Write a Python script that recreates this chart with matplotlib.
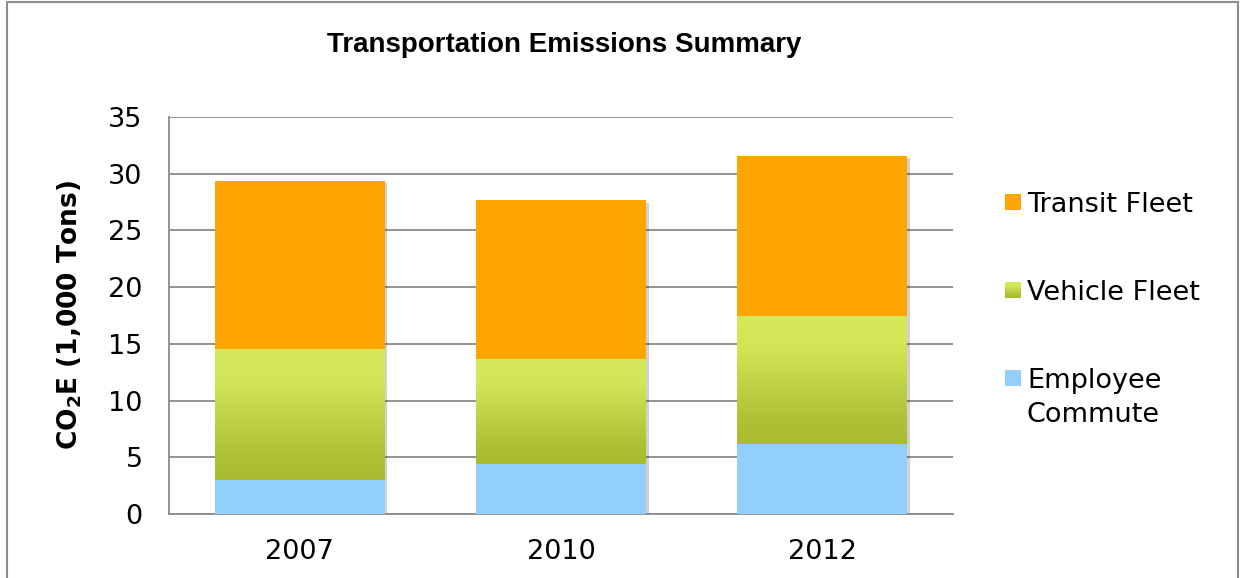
import matplotlib.pyplot as plt
import numpy as np
import matplotlib.patheffects as pe
from matplotlib.colors import LinearSegmentedColormap
from matplotlib.patches import Rectangle

# Datos del grafico (miles de toneladas de CO2E)
years = ['2007', '2010', '2012']
employee = [3.0, 4.4, 6.2]
vehicle = [11.5, 9.2, 11.2]
transit = [14.9, 14.1, 14.2]
series = ['Transit Fleet', 'Vehicle Fleet', 'Employee\nCommute']

orange = '#ffa500'
blue = '#93cffd'
# degradado verde de la flota de vehiculos (abajo oscuro -> arriba claro)
green = LinearSegmentedColormap.from_list(
    'green', [(0.0, '#a9bb30'), (0.2, '#afc236'), (0.75, '#d1e556'), (1.0, '#d5e95a')])

W, H = 1241, 578
fig = plt.figure(figsize=(W / 100, H / 100), dpi=100)
ax = fig.add_axes([169 / W, 64 / H, 784 / W, 397 / H])

x = np.arange(len(years))
w = 0.65
bottom2 = np.array(employee)
bottom3 = bottom2 + np.array(vehicle)
totals = bottom3 + np.array(transit)

# sombra de cada columna
ax.bar(x, totals, w, color='white', zorder=2.5,
       path_effects=[pe.SimplePatchShadow(offset=(2, -2), shadow_rgbFace='k', alpha=0.18)])

ax.bar(x, employee, w, color=blue, zorder=3)
b2 = ax.bar(x, vehicle, w, bottom=bottom2, color=green(0.5), zorder=3)
ax.bar(x, transit, w, bottom=bottom3, color=orange, zorder=3)

grad = np.linspace(0, 1, 256).reshape(-1, 1)
for rect in b2:
    x0, y0 = rect.get_x(), rect.get_y()
    ax.imshow(grad, extent=(x0, x0 + rect.get_width(), y0, y0 + rect.get_height()),
              aspect='auto', cmap=green, origin='lower', zorder=3.5, interpolation='bilinear')

ax.set_xlim(-0.5, len(years) - 0.5)
ax.set_ylim(0, 35)
ax.set_yticks(range(0, 36, 5))
ax.set_xticks(x)
ax.set_xticklabels(years)
ax.set_aspect('auto')

ax.grid(axis='y', color='#8a8a8a', lw=1.3, zorder=0)
ax.set_axisbelow(True)
for s in ['top', 'right']:
    ax.spines[s].set_visible(False)
for s in ['left', 'bottom']:
    ax.spines[s].set_color('#8a8a8a')
    ax.spines[s].set_linewidth(1.3)
ax.tick_params(axis='both', length=0, labelsize=19.5)
ax.tick_params(axis='x', pad=18)
ax.tick_params(axis='y', pad=19)

ax.set_ylabel(r'CO$_\mathbf{2}$E (1,000 Tons)', fontsize=19, fontweight='bold')
ax.yaxis.set_label_coords(-0.108, 0.5)

fig.text(564 / W, 1 - 45 / H, 'Transportation Emissions Summary',
         ha='center', va='center', fontsize=20, fontweight='bold',
         family=['Liberation Sans', 'DejaVu Sans'])

# Leyenda hecha a mano: cuadro de color + texto (una linea cada 34 px)
leg_y = [202, 290, 378]
sq = 16
for name, yc, kind in zip(series, leg_y, ['orange', 'green', 'blue']):
    fy = 1 - yc / H
    if kind == 'green':
        n = 16
        for i in range(n):
            fig.patches.append(Rectangle((1005 / W, fy - sq / 2 / H + sq / H * i / n), sq / W,
                                         sq / H / n * 1.05, facecolor=green(i / (n - 1)),
                                         edgecolor='none', transform=fig.transFigure))
    else:
        c = orange if kind == 'orange' else blue
        fig.patches.append(Rectangle((1005 / W, fy - sq / 2 / H), sq / W, sq / H,
                                     facecolor=c, edgecolor='none', transform=fig.transFigure))
    for j, line in enumerate(name.split('\n')):
        fig.text(1027 / W, 1 - (yc + 34 * j) / H, line, ha='left', va='center_baseline',
                 fontsize=19.5)

# marco exterior del grafico
fig.patches.append(Rectangle((7 / W, -0.1), 1231 / W, 1.1 - 2 / H, fill=False,
                             edgecolor='#8c8c8c', lw=1.5, transform=fig.transFigure))

plt.savefig('out.png', dpi=100)
